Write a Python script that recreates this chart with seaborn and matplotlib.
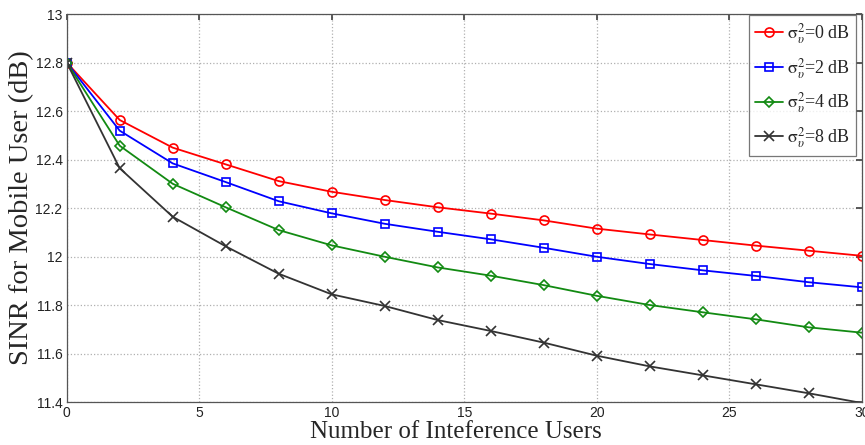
import numpy as np
import pandas as pd
import matplotlib
matplotlib.use("Agg")
import matplotlib.pyplot as plt
import seaborn as sns

x_users = [0, 2, 4, 6, 8, 10, 12, 14, 16, 18, 20, 22, 24, 26, 28, 30]
sinr_0db = [12.80, 12.563, 12.449, 12.380, 12.311, 12.267, 12.233, 12.203, 12.177, 12.149,
            12.115, 12.091, 12.068, 12.045, 12.024, 12.003]
sinr_2db = [12.80, 12.519, 12.384, 12.307, 12.228, 12.178, 12.135, 12.102, 12.071, 12.036,
            11.999, 11.969, 11.943, 11.920, 11.894, 11.873]
sinr_4db = [12.80, 12.457, 12.300, 12.203, 12.109, 12.046, 11.999, 11.955, 11.921, 11.882,
            11.838, 11.800, 11.770, 11.741, 11.708, 11.686]
sinr_8db = [12.80, 12.364, 12.164, 12.042, 11.929, 11.844, 11.796, 11.738, 11.693, 11.645,
            11.591, 11.547, 11.510, 11.473, 11.436, 11.396]
labels = [r'$\mathrm{\sigma}_{\upsilon}^{2}$=0 dB', r'$\mathrm{\sigma}_{\upsilon}^{2}$=2 dB',
          r'$\mathrm{\sigma}_{\upsilon}^{2}$=4 dB', r'$\mathrm{\sigma}_{\upsilon}^{2}$=8 dB']
xticks = [0, 5, 10, 15, 20, 25, 30]
yticks = [11.4, 11.6, 11.8, 12.0, 12.2, 12.4, 12.6, 12.8, 13.0]
ytick_labels = ['11.4', '11.6', '11.8', '12', '12.2', '12.4', '12.6', '12.8', '13']

sns.set_theme(style="white")
plt.rcParams['font.family'] = ['Liberation Sans', 'DejaVu Sans']
plt.rcParams['mathtext.fontset'] = 'stix'

fig = plt.figure(figsize=(8.65, 4.45), dpi=100)
ax = fig.add_axes([0.0771, 0.0966, 0.9191, 0.8719])

series = [sinr_0db, sinr_2db, sinr_4db, sinr_8db]
colors = ['#ff0000', '#0000ff', '#128a12', '#333333']
markers = ['o', 's', 'D', 'x']
msizes = [6.5, 6, 5, 7.5]
for i, (ys, c, m, lab, ms) in enumerate(zip(series, colors, markers, labels, msizes)):
    inside = [k for k, v in enumerate(ys) if v >= 11.4]
    sns.lineplot(x=x_users, y=ys, ax=ax, color=c, marker=m, markersize=ms,
                 markerfacecolor='none', markeredgecolor=c, markeredgewidth=1.2,
                 linewidth=1.3, label=lab, markevery=inside)

ax.set_xlim(0, 30)
ax.set_ylim(11.4, 13)
ax.set_xticks(xticks)
ax.set_xticklabels([str(t) for t in xticks], fontsize=10)
ax.set_yticks(yticks)
ax.set_yticklabels(ytick_labels, fontsize=10)
ax.tick_params(direction='in', length=4, top=True, right=True, color='#444444',
               labelcolor='#222222', pad=3)
ax.grid(True, linestyle=':', color='#b0b0b0', linewidth=0.9)
for s in ax.spines.values():
    s.set_color('#555555')
    s.set_linewidth(0.9)

ax.set_xlabel('Number of Inteference Users', fontsize=18, family='Liberation Serif')
ax.xaxis.set_label_coords(0.4897, -0.048, transform=ax.transAxes)
ax.xaxis.label.set_va('top')
ax.set_ylabel('SINR for Mobile User (dB)', fontsize=20.5, family='Liberation Serif',
              labelpad=1)

leg = ax.legend(loc='upper right', bbox_to_anchor=(0.9928, 0.998), borderaxespad=0,
                frameon=True, fancybox=False, edgecolor='#555555', handlelength=1.55,
                handletextpad=0.2, labelspacing=0.55, borderpad=0.35,
                prop={'family': 'Liberation Serif', 'size': 13})
leg.get_frame().set_linewidth(0.9)

fig.savefig('out.png', dpi=100)
